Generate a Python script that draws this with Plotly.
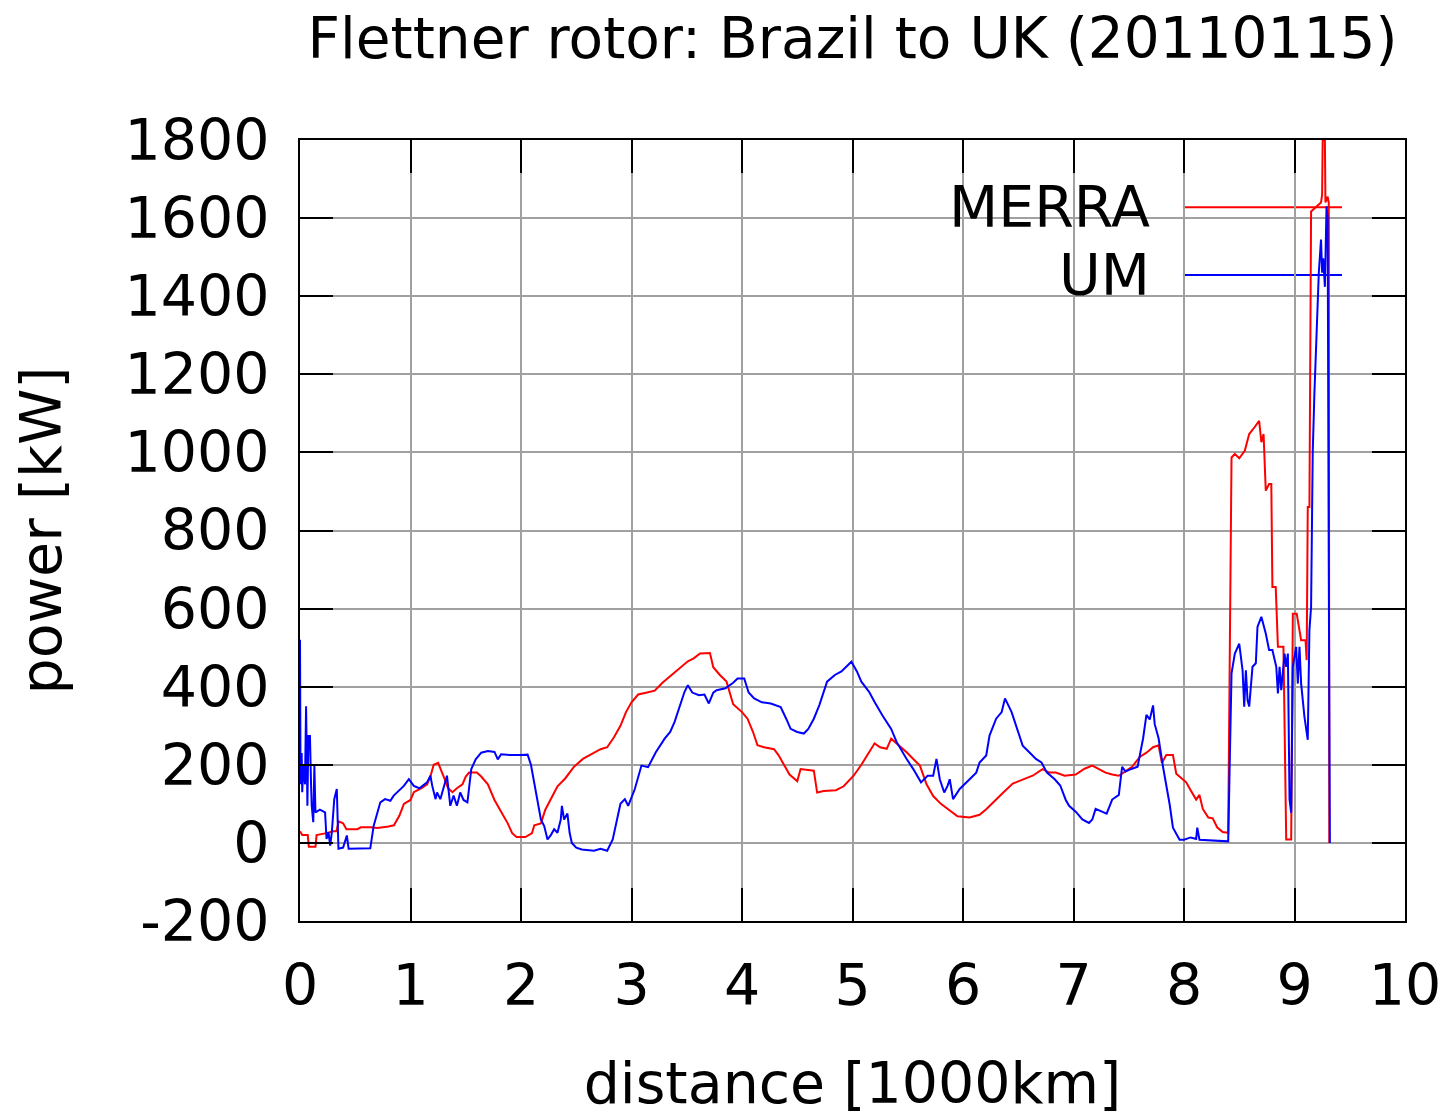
import plotly.graph_objects as go

# ---------------- data (distance in 1000 km, power in kW) ----------------
merra_x = [0.0, 0.02, 0.07, 0.08, 0.14, 0.15, 0.24, 0.30, 0.33, 0.35, 0.39, 0.42, 0.52, 0.55, 0.64, 0.70,
           0.80, 0.85, 0.90, 0.94, 1.00, 1.03, 1.10, 1.15, 1.18, 1.21, 1.25, 1.28, 1.30, 1.34, 1.38, 1.42,
           1.47, 1.50, 1.53, 1.60, 1.64, 1.70, 1.76, 1.82, 1.88, 1.92, 1.96, 2.04, 2.10, 2.12, 2.18, 2.22,
           2.28, 2.33, 2.40, 2.48, 2.56, 2.66, 2.72, 2.78, 2.84, 2.90, 2.95, 3.00, 3.06, 3.14, 3.21, 3.28,
           3.36, 3.44, 3.51, 3.56, 3.62, 3.71, 3.74, 3.80, 3.86, 3.92, 4.00, 4.05, 4.10, 4.14, 4.20, 4.29,
           4.33, 4.38, 4.43, 4.50, 4.53, 4.65, 4.68, 4.74, 4.85, 4.92, 5.01, 5.08, 5.13, 5.20, 5.25, 5.31,
           5.35, 5.40, 5.49, 5.55, 5.61, 5.67, 5.73, 5.80, 5.88, 5.95, 6.06, 6.15, 6.21, 6.30, 6.36, 6.45,
           6.55, 6.63, 6.72, 6.78, 6.84, 6.92, 7.02, 7.10, 7.17, 7.22, 7.29, 7.35, 7.41, 7.47, 7.53, 7.60,
           7.66, 7.72, 7.77, 7.80, 7.84, 7.90, 7.93, 7.98, 8.02, 8.06, 8.11, 8.14, 8.17, 8.22, 8.26, 8.30,
           8.35, 8.40, 8.43, 8.46, 8.50, 8.55, 8.59, 8.64, 8.68, 8.70, 8.72, 8.74, 8.77, 8.79, 8.80, 8.83,
           8.85, 8.90, 8.91, 8.925, 8.97, 8.985, 9.02, 9.06, 9.10, 9.11, 9.12, 9.135, 9.15, 9.20, 9.24, 9.25,
           9.255, 9.275, 9.28, 9.30, 9.31, 9.315]
merra_y = [30, 20, 20, -10, -10, 20, 25, 30, 30, 55, 50, 35, 35, 40, 40, 38,
           42, 45, 70, 100, 110, 130, 140, 150, 170, 200, 205, 185, 170, 140, 130, 140,
           150, 170, 180, 180, 170, 150, 110, 80, 50, 25, 15, 15, 25, 45, 50, 85,
           120, 145, 165, 195, 215, 230, 240, 245, 270, 300, 335, 360, 380, 385, 390, 410,
           430, 450, 465, 472, 485, 486, 450, 430, 413, 355, 335, 318, 284, 250, 245, 240,
           225, 200, 175, 158, 189, 185, 129, 133, 135, 145, 172, 200, 224, 255, 245, 241,
           267, 255, 232, 215, 198, 150, 120, 100, 82, 68, 65, 72, 86, 112, 128, 152,
           163, 172, 189, 180, 180, 172, 175, 190, 198, 190, 180, 175, 172, 183, 195, 220,
           231, 245, 250, 205, 225, 225, 177, 165, 155, 135, 111, 123, 87, 65, 63, 40,
           28, 26, 987, 996, 985, 1004, 1047, 1065, 1081, 1026, 1047, 902, 919, 919, 655, 655,
           502, 502, 323, 9, 9, 587, 587, 519, 519, 468, 860, 860, 1617, 1630, 1640, 1660,
           1800, 1800, 1640, 1655, 1640, 0]

um_x = [0.0, 0.005, 0.015, 0.02, 0.03, 0.045, 0.055, 0.062, 0.067, 0.076, 0.09, 0.10, 0.106, 0.12, 0.13,
        0.14, 0.18, 0.227, 0.24, 0.258, 0.273, 0.288, 0.31, 0.333, 0.348, 0.39, 0.41, 0.424, 0.44, 0.636,
        0.667, 0.70, 0.727, 0.77, 0.818, 0.848, 0.90, 0.94, 0.985, 1.03, 1.08, 1.15, 1.18, 1.197, 1.227,
        1.24, 1.27, 1.30, 1.33, 1.36, 1.39, 1.42, 1.45, 1.48, 1.515, 1.55, 1.59, 1.64, 1.70, 1.76, 1.79,
        1.82, 1.90, 2.00, 2.06, 2.09, 2.12, 2.18, 2.21, 2.24, 2.27, 2.30, 2.33, 2.36, 2.37, 2.39, 2.42,
        2.44, 2.46, 2.50, 2.55, 2.66, 2.72, 2.78, 2.83, 2.87, 2.90, 2.94, 2.97, 3.03, 3.09, 3.15, 3.22,
        3.30, 3.35, 3.39, 3.44, 3.48, 3.51, 3.55, 3.61, 3.66, 3.70, 3.74, 3.77, 3.85, 3.92, 3.96, 4.02,
        4.06, 4.11, 4.18, 4.26, 4.35, 4.40, 4.44, 4.50, 4.56, 4.60, 4.65, 4.70, 4.77, 4.84, 4.90, 4.99,
        5.04, 5.08, 5.15, 5.20, 5.27, 5.35, 5.40, 5.49, 5.55, 5.62, 5.68, 5.73, 5.76, 5.79, 5.83, 5.86,
        5.88, 5.91, 5.97, 6.06, 6.12, 6.15, 6.21, 6.24, 6.30, 6.35, 6.38, 6.44, 6.48, 6.54, 6.60, 6.66,
        6.71, 6.76, 6.83, 6.88, 6.93, 6.96, 7.02, 7.08, 7.14, 7.17, 7.20, 7.26, 7.30, 7.35, 7.41, 7.44,
        7.47, 7.53, 7.58, 7.63, 7.66, 7.69, 7.72, 7.735, 7.77, 7.81, 7.87, 7.90, 7.96, 8.00, 8.06, 8.11,
        8.12, 8.14, 8.40, 8.43, 8.46, 8.50, 8.53, 8.545, 8.56, 8.575, 8.59, 8.62, 8.65, 8.665, 8.70, 8.74,
        8.77, 8.80, 8.835, 8.85, 8.865, 8.88, 8.91, 8.925, 8.94, 8.955, 8.97, 8.985, 9.015, 9.03, 9.045,
        9.06, 9.09, 9.12, 9.135, 9.15, 9.165, 9.18, 9.20, 9.22, 9.24, 9.25, 9.26, 9.275, 9.29, 9.30,
        9.31, 9.32]
um_y = [520, 150, 230, 130, 200, 150, 350, 200, 95, 274, 274, 150, 95, 53, 197,
        78, 85, 78, 10, 27, -7, 27, 112, 138, -15, -12, 5, 19, -15, -14,
        44, 80, 104, 112, 108, 121, 135, 146, 163, 146, 140, 155, 172, 146, 112,
        129, 112, 140, 172, 95, 121, 95, 129, 110, 104, 189, 214, 231, 235, 233, 214,
        227, 225, 225, 226, 200, 155, 60, 43, 9, 20, 35, 26, 60, 95, 60, 75,
        26, 0, -12, -17, -20, -15, -20, 9, 60, 100, 112, 95, 138, 198, 194, 232,
        267, 284, 310, 352, 387, 404, 385, 378, 380, 357, 385, 391, 396, 410, 421, 421,
        385, 370, 360, 357, 348, 318, 292, 284, 280, 292, 318, 353, 413, 430, 439, 464,
        439, 413, 387, 361, 327, 292, 258, 215, 189, 155, 172, 172, 215, 163, 129, 146,
        163, 112, 138, 163, 180, 206, 224, 275, 318, 335, 370, 335, 301, 249, 232, 215,
        206, 180, 163, 147, 110, 95, 80, 60, 51, 60, 87, 80, 75, 111, 123, 195,
        183, 190, 195, 268, 328, 316, 352, 304, 268, 195, 99, 39, 8, 8, 14, 10,
        39, 8, 4, 434, 485, 510, 442, 349, 442, 366, 349, 451, 460, 553, 579, 536,
        494, 494, 451, 383, 451, 391, 485, 451, 485, 111, 77, 451, 502, 408, 502,
        408, 323, 264, 545, 604, 1000, 1150, 1300, 1460, 1545, 1460, 1497, 1424, 1630, 1600,
        713, 0]

x_tick_vals = [0, 1, 2, 3, 4, 5, 6, 7, 8, 9, 10]
y_tick_vals = [-200, 0, 200, 400, 600, 800, 1000, 1200, 1400, 1600, 1800]
y_tick_text = ["-200", "0", "200", "400", "600", "800", "1000", "1200", "1400", "1600", "1800"]
series_names = ["MERRA", "UM"]
series_colors = ["#ff0000", "#0000ff"]

FONT = "DejaVu Sans"
FS = 57
LW = 2

fig = go.Figure()
fig.add_trace(go.Scatter(x=merra_x, y=merra_y, mode="lines", name=series_names[0],
                         line=dict(color=series_colors[0], width=LW), showlegend=False))
fig.add_trace(go.Scatter(x=um_x, y=um_y, mode="lines", name=series_names[1],
                         line=dict(color=series_colors[1], width=LW), showlegend=False))

# white key box hiding the grid (drawn between grid and traces)
fig.add_shape(type="rect", xref="paper", yref="paper", x0=0.626, x1=0.968, y0=0.785, y1=0.958,
              fillcolor="white", line=dict(width=0), layer="between")

# key entries
key_y = [0.914, 0.827]
for name, col, ky in zip(series_names, series_colors, key_y):
    fig.add_annotation(xref="paper", yref="paper", x=0.771, y=ky, text=name, showarrow=False,
                       xanchor="right", yanchor="middle", font=dict(family=FONT, size=FS, color="black"))
    fig.add_shape(type="line", xref="paper", yref="paper", x0=0.799, x1=0.943, y0=ky, y1=ky,
                  line=dict(color=col, width=LW), layer="between")

axis_common = dict(showgrid=True, gridcolor="#a0a0a0", gridwidth=2,
                   showline=True, linecolor="black", linewidth=2, mirror="ticks",
                   ticks="inside", ticklen=33, tickwidth=2, tickcolor="black",
                   tickfont=dict(family=FONT, size=FS, color="black"), zeroline=False)

fig.update_xaxes(range=[0, 10], tickvals=x_tick_vals, ticklabelstandoff=14,
                 title=dict(text="distance [1000km]", font=dict(family=FONT, size=FS, color="black"), standoff=61),
                 **axis_common)
fig.update_yaxes(range=[-200, 1800], tickvals=y_tick_vals, ticktext=y_tick_text, ticklabelstandoff=17,
                 title=dict(text="power [kW]", font=dict(family=FONT, size=FS, color="black"), standoff=45),
                 **axis_common)

fig.update_layout(
    width=1446, height=1116,
    margin=dict(l=300, r=41, t=140, b=195, autoexpand=False),
    paper_bgcolor="white", plot_bgcolor="white",
    title=dict(text="Flettner rotor: Brazil to UK (20110115)", x=0.5, xanchor="center", xref="paper",
               y=1 - 38 / 1116, yanchor="middle", yref="container",
               font=dict(family=FONT, size=56.5, color="black")),
    font=dict(family=FONT, color="black"),
)

fig.write_html("out.html", config={"displayModeBar": False},
               post_script="document.body.style.margin='0px';")
